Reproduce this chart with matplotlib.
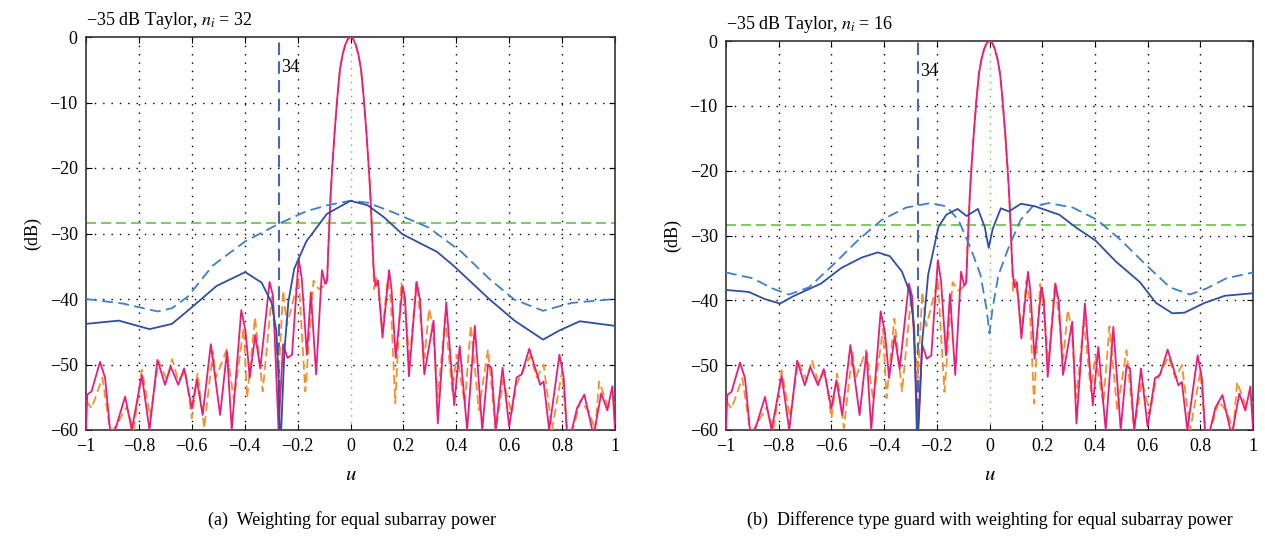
import numpy as np
import matplotlib
matplotlib.use("Agg")
import matplotlib.pyplot as plt

plt.rcParams['font.family'] = ['Liberation Serif', 'DejaVu Serif']
plt.rcParams['mathtext.fontset'] = 'stix'

# ---- data (u, dB) ----
main_u = [-0.088, -0.085, -0.08, -0.075, -0.07, -0.065, -0.06, -0.05, -0.04, -0.03, -0.02, -0.01, 0.0,
          0.01, 0.02, 0.03, 0.04, 0.05, 0.06, 0.065, 0.07, 0.075, 0.08, 0.085]
main_db = [-37.0, -33.5, -28.5, -24.0, -20.5, -17.5, -14.5, -9.3, -5.0, -2.7, -1.2, -0.3, 0.0,
           -0.3, -1.2, -2.7, -5.0, -9.3, -14.5, -17.5, -20.5, -24.0, -28.5, -33.5]

sum_left_u = [-1.0, -0.995, -0.979, -0.947, -0.928, -0.909, -0.890, -0.852, -0.827, -0.789, -0.760,
              -0.730, -0.701, -0.680, -0.651, -0.629, -0.600, -0.581, -0.559, -0.528, -0.493, -0.467,
              -0.449, -0.413, -0.397, -0.381, -0.360, -0.341, -0.306, -0.293, -0.272, -0.255, -0.238,
              -0.221, -0.196, -0.184, -0.165, -0.150, -0.130, -0.108, -0.096, -0.091]
sum_left_db = [-60, -54.6, -54.1, -49.6, -52.0, -60, -60, -54.9, -60, -51.6, -60,
               -49.3, -53.1, -50.3, -53.1, -50.6, -56.7, -52.3, -57.7, -46.9, -57.7, -48.0,
               -60, -41.7, -44.9, -52.0, -45.5, -50.6, -37.4, -39.5, -60, -46.9, -49.0,
               -48.5, -33.8, -37.0, -48.5, -39.0, -51.5, -35.6, -37.7, -37.5]
sum_right_u = [0.089, 0.095, 0.104, 0.121, 0.146, 0.155, 0.171, 0.197, 0.206, 0.221, 0.250, 0.263,
               0.279, 0.314, 0.330, 0.362, 0.392, 0.413, 0.441, 0.470, 0.498, 0.520, 0.533, 0.549,
               0.575, 0.600, 0.628, 0.647, 0.676, 0.698, 0.717, 0.730, 0.751, 0.790, 0.806, 0.818,
               0.837, 0.857, 0.884, 0.914, 0.923, 0.948, 0.971, 0.990, 1.0]
sum_right_db = [-36.2, -38.0, -37.2, -45.9, -35.6, -38.5, -49.0, -38.0, -39.8, -51.8, -37.4, -40.2,
                -51.5, -43.3, -59.0, -40.5, -56.2, -47.2, -60, -44.1, -60, -50.0, -50.5, -60,
                -50.5, -59.5, -52.0, -51.5, -47.6, -50.5, -53.1, -52.6, -60, -48.5, -52.0, -60,
                -60, -56.6, -54.6, -60, -60, -54.4, -57.0, -53.3, -60]

alt_left_u = [-1.0, -0.979, -0.938, -0.909, -0.896, -0.846, -0.820, -0.789, -0.757, -0.726, -0.694,
              -0.674, -0.651, -0.624, -0.600, -0.578, -0.553, -0.520, -0.508, -0.468, -0.441, -0.404,
              -0.391, -0.361, -0.332, -0.298, -0.272, -0.255, -0.240, -0.196, -0.171, -0.140,
              -0.120, -0.100, -0.091]
alt_left_db = [-55.5, -56.7, -52.0, -60, -60, -56.5, -60, -50.8, -58.0, -49.5, -52.3,
               -49.2, -52.5, -51.0, -58.2, -51.3, -59.7, -48.0, -52.0, -47.7, -55.4, -44.4,
               -55.1, -42.8, -54.1, -39.7, -52.0, -38.7, -44.0, -36.9, -54.1, -37.2,
               -38.5, -38.0, -37.0]
alt_right_u = [0.089, 0.098, 0.110, 0.121, 0.140, 0.152, 0.169, 0.192, 0.205, 0.224, 0.248, 0.262,
               0.280, 0.297, 0.310, 0.330, 0.358, 0.385, 0.402, 0.432, 0.455, 0.485, 0.520, 0.549,
               0.578, 0.609, 0.628, 0.679, 0.705, 0.730, 0.762, 0.800, 0.818, 0.840, 0.870, 0.902,
               0.925, 0.940, 0.972, 1.0]
alt_right_db = [-38.5, -36.8, -40.0, -45.0, -37.0, -40.0, -55.9, -37.5, -41.0, -49.5, -37.5, -42.0,
                -49.0, -41.5, -44.0, -55.0, -43.0, -54.0, -48.5, -56.0, -44.0, -57.0, -47.7, -60,
                -52.4, -57.5, -53.0, -48.7, -52.0, -50.0, -60, -51.0, -60, -60, -55.5, -57.3,
                -60, -52.6, -56.3, -55.8]

# panel (a) guard patterns
a_solid_u = [-1.0, -0.876, -0.760, -0.675, -0.598, -0.506, -0.398, -0.336, -0.298, -0.280, -0.272,
             -0.268, -0.262, -0.250, -0.235, -0.213, -0.167, -0.089, 0.0, 0.065, 0.126, 0.196,
             0.327, 0.389, 0.527, 0.620, 0.728, 0.790, 0.867, 1.0]
a_solid_db = [-43.8, -43.3, -44.6, -43.8, -41.2, -38.0, -35.9, -37.5, -40.6, -45.0, -52.0,
              -60, -60, -48.0, -40.5, -35.4, -31.2, -27.0, -25.0, -25.7, -27.5, -30.1,
              -32.8, -34.9, -40.1, -43.3, -46.2, -44.8, -43.4, -44.1]
a_dash_u = [-1.0, -0.860, -0.729, -0.675, -0.614, -0.521, -0.398, -0.270, -0.167, -0.089, 0.0,
            0.065, 0.157, 0.296, 0.419, 0.527, 0.620, 0.728, 0.836, 1.0]
a_dash_db = [-40.0, -40.7, -41.9, -41.4, -39.6, -34.9, -31.2, -28.5, -26.6, -25.7, -25.0,
             -25.3, -26.7, -29.1, -32.8, -37.0, -40.1, -41.8, -40.6, -40.0]

# panel (b) guard patterns
b_solid_u = [-1.0, -0.914, -0.853, -0.795, -0.746, -0.639, -0.562, -0.485, -0.424, -0.378, -0.332,
             -0.302, -0.286, -0.276, -0.270, -0.264, -0.256, -0.233, -0.194, -0.164, -0.121,
             -0.087, -0.044, -0.018, -0.003, 0.012, 0.043, 0.074, 0.119, 0.173, 0.265, 0.326,
             0.403, 0.479, 0.571, 0.632, 0.694, 0.740, 0.816, 0.893, 1.0]
b_solid_db = [-38.4, -38.7, -39.8, -40.5, -39.4, -37.4, -35.0, -33.4, -32.6, -33.2, -35.6,
              -38.8, -44.0, -60, -60, -55.0, -46.7, -36.1, -28.7, -26.8, -25.9,
              -27.0, -25.9, -28.7, -31.9, -29.0, -25.8, -26.3, -25.1, -25.5, -26.8, -28.7,
              -30.8, -34.0, -37.2, -40.4, -42.0, -41.9, -40.4, -39.3, -38.9]
b_dash_u = [-1.0, -0.899, -0.822, -0.761, -0.685, -0.593, -0.501, -0.409, -0.317, -0.225, -0.164,
            -0.118, -0.072, -0.034, -0.011, 0.0, 0.011, 0.034, 0.072, 0.118, 0.164, 0.225,
            0.317, 0.409, 0.501, 0.593, 0.685, 0.761, 0.822, 0.899, 1.0]
b_dash_db = [-35.7, -36.6, -38.2, -39.1, -38.0, -34.5, -30.8, -27.6, -25.7, -25.0, -25.5,
             -27.6, -31.9, -36.1, -41.4, -45.1, -41.4, -36.1, -31.9, -27.6, -25.5, -25.0,
             -25.7, -27.6, -30.8, -34.5, -38.0, -39.1, -38.2, -36.6, -35.7]

guard_level = -28.4
null_u = -0.272
titles = ['\u221235 dB Taylor, $n_i$ = 32', '\u221235 dB Taylor, $n_i$ = 16']
captions = ['(a)  Weighting for equal subarray power',
            '(b)  Difference type guard with weighting for equal subarray power']
x_ticks = [-1, -0.8, -0.6, -0.4, -0.2, 0, 0.2, 0.4, 0.6, 0.8, 1]
x_labels = ['\u22121', '\u22120.8', '\u22120.6', '\u22120.4', '\u22120.2', '0',
            '0.2', '0.4', '0.6', '0.8', '1']
y_ticks = [0, -10, -20, -30, -40, -50, -60]
y_labels = ['0', '\u221210', '\u221220', '\u221230', '\u221240', '\u221250', '\u221260']

sum_u = sum_left_u + main_u + sum_right_u
sum_db = sum_left_db + main_db + sum_right_db
alt_u = alt_left_u + main_u + alt_right_u
alt_db = alt_left_db + main_db + alt_right_db

MAGENTA = '#ee1b7a'
ORANGE = '#f7902a'
BLUE = '#2f4fa5'
LBLUE = '#3f7fcb'
GREEN = '#6dbf45'

fig = plt.figure(figsize=(12.65, 5.39), dpi=100)
ax_a = fig.add_axes([86 / 1265, 1 - 430 / 539, 529 / 1265, 393 / 539])
ax_b = fig.add_axes([726 / 1265, 1 - 430 / 539, 527 / 1265, 389 / 539])

panels = [(ax_a, a_solid_u, a_solid_db, a_dash_u, a_dash_db),
          (ax_b, b_solid_u, b_solid_db, b_dash_u, b_dash_db)]

for i, (ax, su, sd, du, dd) in enumerate(panels):
    for xt in x_ticks[1:-1]:
        if xt != 0:
            ax.axvline(xt, color='k', ls=(0, (1, 5)), lw=1.0, zorder=0)
    for yt in y_ticks[1:-1]:
        ax.axhline(yt, color='k', ls=(0, (1, 5)), lw=1.0, zorder=0)
    ax.axvline(0, color=GREEN, ls=(0, (1, 4)), lw=1.0, zorder=1)
    ax.axhline(guard_level, color=GREEN, ls=(0, (6, 3)), lw=1.2, zorder=2)
    ax.axvline(null_u, color='#4a66b0', ls=(0, (6, 3)), lw=1.5, zorder=2)

    ax.plot(alt_u, alt_db, color=ORANGE, ls=(0, (5, 2.5)), lw=1.3, zorder=3)
    ax.plot(sum_u, sum_db, color=MAGENTA, lw=1.3, zorder=4)
    ax.plot(du, dd, color=LBLUE, ls=(0, (6, 3)), lw=1.3, zorder=5)
    ax.plot(su, sd, color=BLUE, lw=1.3, zorder=6)

    ax.text(null_u + 0.008, -4.7, '34', fontsize=13, va='center', ha='left')
    ax.set_xlim(-1, 1)
    ax.set_ylim(-60, 0)
    ax.set_xticks(x_ticks)
    ax.set_xticklabels(x_labels)
    ax.set_yticks(y_ticks)
    ax.set_yticklabels(y_labels)
    ax.tick_params(direction='in', top=True, right=True, labelsize=13, length=4, pad=6)
    for sp in ax.spines.values():
        sp.set_linewidth(1.2)
        sp.set_color('#333333')
    ax.set_xlabel('$u$', fontsize=15, labelpad=8)
    ax.set_ylabel('(dB)', fontsize=13, labelpad=6)
    ax.text(0.0, 1.015, titles[i], transform=ax.transAxes, fontsize=13, ha='left', va='bottom')

fig.text(352 / 1265, 1 - 520 / 539, captions[0], fontsize=13, ha='center', va='center')
fig.text(990 / 1265, 1 - 520 / 539, captions[1], fontsize=13, ha='center', va='center')

fig.savefig('out.png', dpi=100)
